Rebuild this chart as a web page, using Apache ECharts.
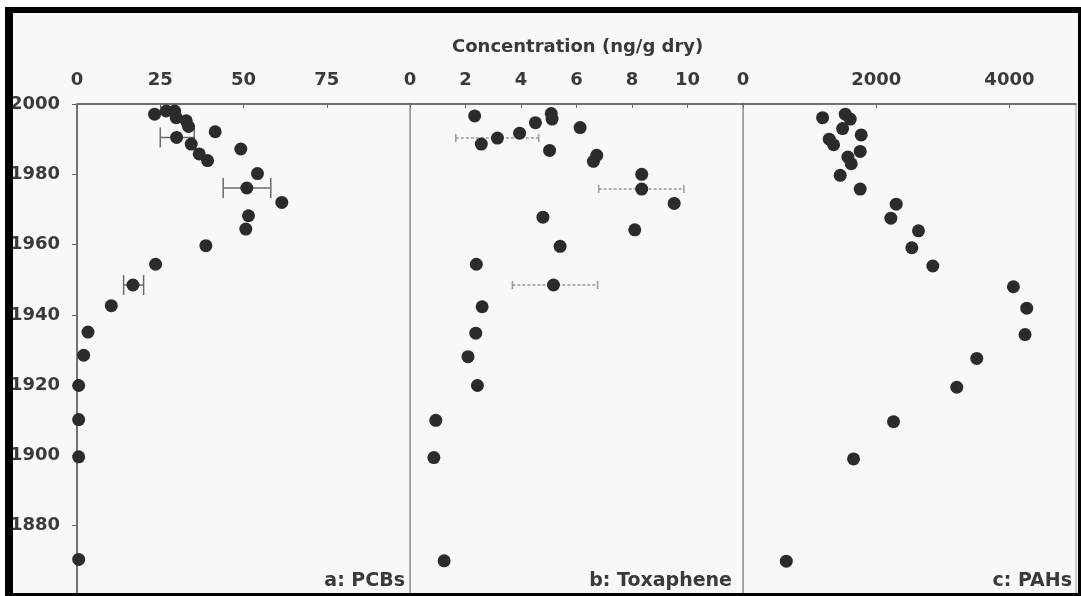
<!DOCTYPE html>
<html><head><meta charset="utf-8">
<script src="https://cdn.jsdelivr.net/npm/echarts@6/dist/echarts.min.js"></script>
<style>html,body{margin:0;padding:0;background:#fff;}#c{width:1081px;height:596px;}</style>
</head><body><div id="c"></div>
<script>
// ---- data (year, concentration) ----
const pcbYears = [1997.1,1998.0,1998.0,1996.1,1995.2,1993.6,1992.1,1990.5,1988.6,1987.2,1985.8,1983.9,1980.2,1976.1,1972.0,1968.2,1964.4,1959.7,1954.4,1948.5,1942.6,1935.1,1928.5,1919.9,1910.2,1899.6,1870.4];
const pcbValues = [23.3,26.8,29.3,29.8,32.8,33.5,41.5,29.9,34.3,49.2,36.7,39.2,54.2,51.0,61.5,51.5,50.7,38.7,23.6,16.8,10.3,3.3,2.0,0.5,0.5,0.5,0.5];
const pcbErrYears = [1990.5,1976.1,1948.5];
const pcbErrLow = [25.0,43.9,14.0];
const pcbErrHigh = [35.2,58.2,20.0];

const toxYears = [1996.6,1997.3,1995.7,1994.7,1993.3,1991.7,1990.3,1988.6,1986.8,1985.4,1983.7,1980.0,1975.8,1971.7,1967.8,1964.2,1959.5,1954.4,1948.5,1942.3,1934.8,1928.1,1919.9,1910.0,1899.4,1870.0];
const toxValues = [2.33,5.09,5.12,4.52,6.13,3.95,3.15,2.57,5.03,6.73,6.61,8.35,8.35,9.52,4.79,8.10,5.41,2.39,5.17,2.60,2.37,2.09,2.43,0.93,0.86,1.23];
const toxErrYears = [1990.3,1975.8,1948.5];
const toxErrLow = [1.65,6.80,3.69];
const toxErrHigh = [4.64,9.87,6.76];

const pahYears = [1996.1,1997.1,1995.7,1993.0,1991.2,1990.0,1988.4,1986.5,1984.9,1983.0,1979.7,1975.8,1971.5,1967.5,1963.9,1959.1,1953.9,1948.0,1941.9,1934.4,1927.6,1919.4,1909.6,1899.0,1869.9];
const pahValues = [1195,1535,1610,1495,1775,1295,1360,1760,1575,1625,1460,1760,2300,2220,2635,2535,2850,4060,4260,4235,3510,3210,2260,1660,650];

const panelLabels = ['a: PCBs','b: Toxaphene','c: PAHs'];
const axisTitle = 'Concentration (ng/g dry)';
const yearTicks = {min:1860, max:2000, interval:20};

// ---- helpers ----
function pts(xs, ys){ return ys.map((y,i)=>[xs[i], y]); }
function errData(ys, lo, hi){ return ys.map((y,i)=>[lo[i], hi[i], y]); }
function errRender(capH, color, dash){
  return function(params, api){
    const lo = api.value(0), hi = api.value(1), y = api.value(2);
    const a = api.coord([lo, y]), b = api.coord([hi, y]);
    const st = {stroke: color, lineWidth: 1.5, lineDash: dash};
    const st2 = {stroke: color, lineWidth: 1.5};
    return {type:'group', children:[
      {type:'line', shape:{x1:a[0],y1:a[1],x2:b[0],y2:b[1]}, style:st},
      {type:'line', shape:{x1:a[0],y1:a[1]-capH/2,x2:a[0],y2:a[1]+capH/2}, style:st2},
      {type:'line', shape:{x1:b[0],y1:b[1]-capH/2,x2:b[0],y2:b[1]+capH/2}, style:st2}
    ]};
  };
}
const FONT = 'DejaVu Sans';
const TXT = '#3a3a3a';
const lbl = {fontFamily: FONT, fontWeight:'bold', fontSize:18, color: TXT};
const grids = [
  {left:77, top:104, width:333, height:497},
  {left:410, top:104, width:333, height:497},
  {left:743, top:104, width:333, height:497}
].map(g=>Object.assign(g,{show:true, borderColor:'#9a9a9a', borderWidth:1, backgroundColor:'transparent'}));

function xAx(i, max, interval){
  return {type:'value', gridIndex:i, position:'top', min:0, max:max, interval:interval,
    axisLine:{show:true, lineStyle:{color:'#555', width:1.5}},
    axisTick:{show:true, inside:true, length:4, lineStyle:{color:'#666'}},
    axisLabel:Object.assign({margin:15, showMaxLabel:false,
      formatter: v => (v === max ? '' : String(v))}, lbl),
    splitLine:{show:false}};
}
function yAx(i, showLabels){
  return {type:'value', gridIndex:i, min:yearTicks.min, max:yearTicks.max, interval:yearTicks.interval,
    axisLine:{show:true, onZero:false, lineStyle:{color: showLabels ? '#555' : '#9a9a9a', width: showLabels?1.5:1}},
    axisTick:{show:showLabels, length:5, lineStyle:{color:'#666'}},
    axisLabel:Object.assign({show:showLabels, margin:17, showMinLabel:false, formatter: v => String(v)}, lbl),
    splitLine:{show:false}};
}
const dot = {type:'scatter', symbol:'circle', symbolSize:13, itemStyle:{color:'#2b2b2b', opacity:1}, z:5};

const option = {
  animation:false,
  backgroundColor:'#f8f8f8',
  grid: grids,
  xAxis:[xAx(0,100,25), xAx(1,12,2), xAx(2,5000,2000)],
  yAxis:[yAx(0,true), yAx(1,false), yAx(2,false)],
  series:[
    {type:'custom', xAxisIndex:0, yAxisIndex:0, renderItem: errRender(20,'#6a6a6a',null), encode:{x:[0,1], y:2}, data: errData(pcbErrYears,pcbErrLow,pcbErrHigh), z:3},
    {type:'custom', xAxisIndex:1, yAxisIndex:1, renderItem: errRender(8,'#9a9a9a',[3,2]), encode:{x:[0,1], y:2}, data: errData(toxErrYears,toxErrLow,toxErrHigh), z:3},
    Object.assign({xAxisIndex:0, yAxisIndex:0, data: pts(pcbValues, pcbYears)}, dot),
    Object.assign({xAxisIndex:1, yAxisIndex:1, data: pts(toxValues, toxYears)}, dot),
    Object.assign({xAxisIndex:2, yAxisIndex:2, data: pts(pahValues, pahYears)}, dot)
  ],
  graphic:[
    {type:'text', left:452, top:38, style:{text:axisTitle, font:'bold 18px "DejaVu Sans"', fill:TXT}},
    {type:'text', right:676, top:572, style:{text:panelLabels[0], font:'bold 19px "DejaVu Sans"', fill:TXT}},
    {type:'text', right:349, top:572, style:{text:panelLabels[1], font:'bold 19px "DejaVu Sans"', fill:TXT}},
    {type:'text', right:9, top:572, style:{text:panelLabels[2], font:'bold 19px "DejaVu Sans"', fill:TXT}},
    // frame
    {type:'rect', shape:{x:0,y:0,width:1081,height:7}, style:{fill:'#fff'}, z:100},
    {type:'rect', shape:{x:0,y:0,width:5,height:596}, style:{fill:'#fff'}, z:100},
    {type:'rect', shape:{x:5,y:7,width:1076,height:6}, style:{fill:'#000'}, z:101},
    {type:'rect', shape:{x:5,y:7,width:8,height:589}, style:{fill:'#000'}, z:101},
    {type:'rect', shape:{x:1078,y:7,width:3,height:589}, style:{fill:'#000'}, z:101},
    {type:'rect', shape:{x:5,y:593,width:1076,height:3}, style:{fill:'#000'}, z:101}
  ]
};
const chart = echarts.init(document.getElementById('c'), null, {renderer:'canvas'});
chart.setOption(option);
</script></body></html>
